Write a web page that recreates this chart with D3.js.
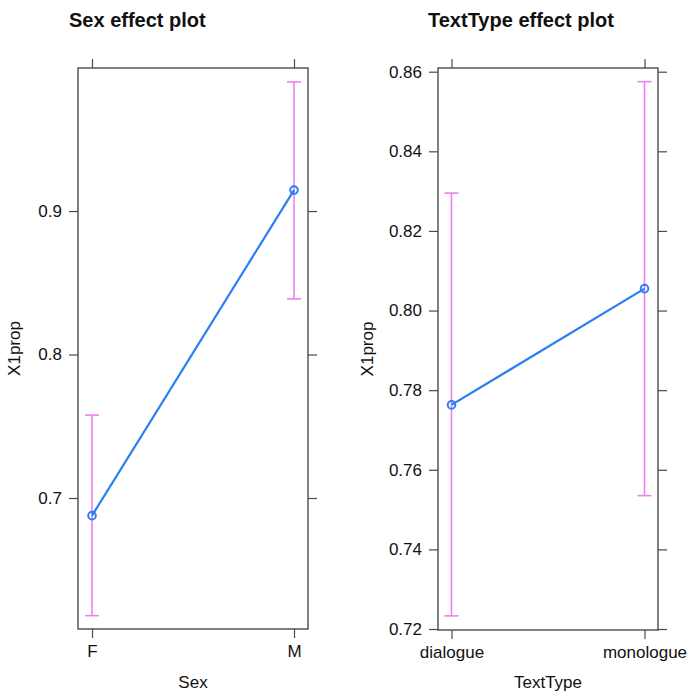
<!DOCTYPE html>
<html>
<head>
<meta charset="utf-8">
<script src="https://cdn.jsdelivr.net/npm/d3@7"></script>
<style>
  html, body { margin: 0; padding: 0; background: #fff; }
  svg { display: block; font-family: "Liberation Sans", Arial, Helvetica, sans-serif; }
</style>
</head>
<body>
<svg id="chart" width="689" height="699"></svg>
<script>
// ---- data ----
const sexLevels = ["F", "M"];
const sexFit = [0.6877, 0.9146];
const sexLower = [0.6180, 0.8388];
const sexUpper = [0.7578, 0.9900];
const sexTicks = [0.7, 0.8, 0.9];

const textLevels = ["dialogue", "monologue"];
const textFit = [0.7763, 0.8055];
const textLower = [0.7233, 0.7535];
const textUpper = [0.8295, 0.8575];
const textTicks = [0.72, 0.74, 0.76, 0.78, 0.80, 0.82, 0.84, 0.86];

const panels = [
  { title: "Sex effect plot", xlab: "Sex", ylab: "X1prop",
    levels: sexLevels, fit: sexFit, lower: sexLower, upper: sexUpper,
    ticks: sexTicks, fmt: d3.format(".1f"),
    yDomain: [0.6087, 0.9997],
    box: { x0: 78, x1: 308, y0: 68, y1: 629 }, xPad: 14,
    titleX: 69, ylabX: 20 },
  { title: "TextType effect plot", xlab: "TextType", ylab: "X1prop",
    levels: textLevels, fit: textFit, lower: textLower, upper: textUpper,
    ticks: textTicks, fmt: d3.format(".2f"),
    yDomain: [0.71975, 0.86093],
    box: { x0: 438, x1: 658, y0: 68, y1: 630 }, xPad: 13.5,
    titleX: 428, ylabX: 373 }
];

const svg = d3.select("#chart");
const axisCol = "#4a4a4a";
const lineCol = "#2a7ff2";
const ciCol = "#ef7ff0";
const tickLen = 9;

panels.forEach(p => {
  const b = p.box;
  const x = d3.scalePoint().domain(p.levels).range([b.x0 + p.xPad, b.x1 - p.xPad]);
  const y = d3.scaleLinear().domain(p.yDomain).range([b.y1, b.y0]);
  const g = svg.append("g");

  // title
  g.append("text").attr("x", p.titleX).attr("y", 27)
    .attr("font-size", 20).attr("font-weight", "bold").attr("fill", "#111")
    .text(p.title);

  // axes via d3
  const left = d3.axisLeft(y).tickValues(p.ticks).tickFormat(p.fmt).tickSizeOuter(0).tickSize(tickLen).tickPadding(7);
  const right = d3.axisRight(y).tickValues(p.ticks).tickFormat("").tickSizeOuter(0).tickSize(tickLen);
  const bottom = d3.axisBottom(x).tickSizeOuter(0).tickSize(tickLen).tickPadding(7);
  const top = d3.axisTop(x).tickFormat("").tickSizeOuter(0).tickSize(tickLen);

  const styleAxis = sel => {
    sel.select(".domain").remove();
    sel.selectAll(".tick line").attr("stroke", axisCol).attr("stroke-width", 1.2);
    sel.selectAll(".tick text").attr("fill", "#111").attr("font-size", 17)
      .attr("font-family", "Liberation Sans, Arial, sans-serif");
  };
  g.append("g").attr("transform", `translate(${b.x0},0)`).call(left).call(styleAxis);
  g.append("g").attr("transform", `translate(${b.x1},0)`).call(right).call(styleAxis);
  g.append("g").attr("transform", `translate(0,${b.y1})`).call(bottom).call(styleAxis);
  g.append("g").attr("transform", `translate(0,${b.y0})`).call(top).call(styleAxis);

  // frame
  g.append("rect").attr("x", b.x0).attr("y", b.y0)
    .attr("width", b.x1 - b.x0).attr("height", b.y1 - b.y0)
    .attr("fill", "none").attr("stroke", axisCol).attr("stroke-width", 1.4);

  // axis labels
  g.append("text").attr("x", (b.x0 + b.x1) / 2).attr("y", 688)
    .attr("text-anchor", "middle").attr("font-size", 17).attr("fill", "#111")
    .text(p.xlab);
  g.append("text")
    .attr("transform", `translate(${p.ylabX},${(b.y0 + b.y1) / 2}) rotate(-90)`)
    .attr("text-anchor", "middle").attr("font-size", 17).attr("fill", "#111")
    .text(p.ylab);

  // error bars
  const data = p.levels.map((l, i) => ({ l, fit: p.fit[i], lo: p.lower[i], hi: p.upper[i] }));
  const cap = 7;
  const eb = g.append("g").attr("stroke", ciCol).attr("stroke-width", 1.6).attr("fill", "none");
  data.forEach(d => {
    eb.append("line").attr("x1", x(d.l)).attr("x2", x(d.l)).attr("y1", y(d.lo)).attr("y2", y(d.hi));
    eb.append("line").attr("x1", x(d.l) - cap).attr("x2", x(d.l) + cap).attr("y1", y(d.lo)).attr("y2", y(d.lo));
    eb.append("line").attr("x1", x(d.l) - cap).attr("x2", x(d.l) + cap).attr("y1", y(d.hi)).attr("y2", y(d.hi));
  });

  // fitted line + points
  g.append("path").datum(data)
    .attr("d", d3.line().x(d => x(d.l)).y(d => y(d.fit)))
    .attr("fill", "none").attr("stroke", lineCol).attr("stroke-width", 2.2);
  g.selectAll("circle.pt").data(data).enter().append("circle")
    .attr("class", "pt").attr("cx", d => x(d.l)).attr("cy", d => y(d.fit))
    .attr("r", 3.8).attr("fill", "none").attr("stroke", lineCol).attr("stroke-width", 2);
});
</script>
</body>
</html>
